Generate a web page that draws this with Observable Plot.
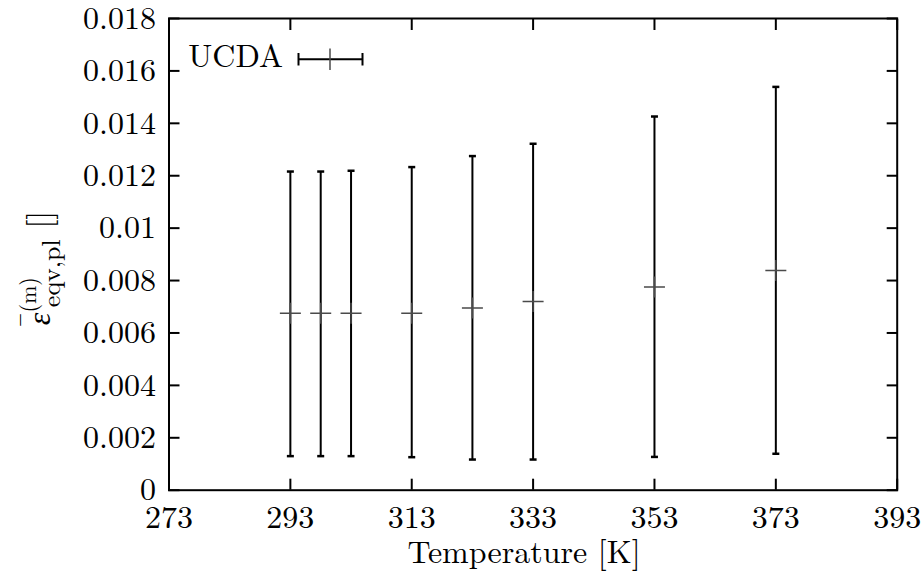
<!DOCTYPE html>
<html>
<head>
<meta charset="utf-8">
<script src="https://cdn.jsdelivr.net/npm/d3@7"></script>
<script src="https://cdn.jsdelivr.net/npm/@observablehq/plot@0.6"></script>
<style>
  html, body { margin: 0; padding: 0; background: white; }
  #chart { width: 924px; height: 575px; }
</style>
</head>
<body>
<div id="chart"></div>
<script>
// Data
const temps = [293, 298, 303, 313, 323, 333, 353, 373];
const means = [0.00675, 0.00675, 0.00675, 0.00675, 0.00695, 0.0072, 0.00775, 0.00838];
const lows  = [0.0013, 0.0013, 0.0013, 0.00126, 0.00117, 0.00117, 0.00127, 0.00139];
const highs = [0.01216, 0.01216, 0.01219, 0.01233, 0.01275, 0.01322, 0.01426, 0.01539];
const xTicks = [273, 293, 313, 333, 353, 373, 393];
const yTicks = [0, 0.002, 0.004, 0.006, 0.008, 0.01, 0.012, 0.014, 0.016, 0.018];
const seriesName = "UCDA";

const data = temps.map((T, i) => ({T, mean: means[i], lo: lows[i], hi: highs[i]}));

const capSym = {draw(ctx, size) { const r = Math.sqrt(size / Math.PI); ctx.moveTo(-r, 0); ctx.lineTo(r, 0); }};
const plusSym = {draw(ctx, size) { const r = Math.sqrt(size / Math.PI); ctx.moveTo(-r, 0); ctx.lineTo(r, 0); ctx.moveTo(0, -r); ctx.lineTo(0, r); }};

const fmt = d => String(+d.toFixed(4));
const font = "'Latin Modern Roman', 'Liberation Serif', serif";
const FS = 32;
const W = 924, H = 575, mL = 168.5, mR = 27.3, mT = 18, mB = 85.3;

const chart = Plot.plot({
  width: W, height: H,
  marginLeft: mL, marginRight: mR, marginTop: mT, marginBottom: mB,
  style: {fontFamily: font, fontSize: FS + "px", background: "white", color: "black", overflow: "visible"},
  x: {domain: [273, 393], label: null},
  y: {domain: [0, 0.018], label: null},
  marks: [
    Plot.axisX({anchor: "bottom", ticks: xTicks, tickSize: 0, tickPadding: 15, tickFormat: d => String(d), fontSize: FS, label: null}),
    Plot.axisX({anchor: "bottom", ticks: xTicks, tickSize: -11, strokeWidth: 2, tickFormat: () => "", label: null}),
    Plot.axisX({anchor: "top", ticks: xTicks, tickSize: -11, strokeWidth: 2, tickFormat: () => "", label: null}),
    Plot.axisY({anchor: "left", ticks: yTicks, tickSize: 0, tickPadding: 13, tickFormat: fmt, fontSize: FS, label: null}),
    Plot.axisY({anchor: "left", ticks: yTicks, tickSize: -11, strokeWidth: 2, tickFormat: () => "", label: null}),
    Plot.axisY({anchor: "right", ticks: yTicks, tickSize: -11, strokeWidth: 2, tickFormat: () => "", label: null}),
    Plot.ruleX(data, {x: "T", y1: "lo", y2: "hi", stroke: "black", strokeWidth: 2}),
    Plot.dot(data, {x: "T", y: "hi", symbol: capSym, r: 3.5, stroke: "black", strokeWidth: 2.5, fill: "none"}),
    Plot.dot(data, {x: "T", y: "lo", symbol: capSym, r: 3.5, stroke: "black", strokeWidth: 2.5, fill: "none"}),
    Plot.dot(data, {x: "T", y: "mean", symbol: plusSym, r: 10.5, stroke: "#4a4a4a", strokeWidth: 1.5, fill: "none"}),
    Plot.frame({stroke: "black", strokeWidth: 2})
  ]
});

document.getElementById("chart").appendChild(chart);

const svg = d3.select(chart);

// X axis label
svg.append("text")
  .attr("x", 524).attr("y", 563)
  .attr("text-anchor", "middle")
  .attr("font-size", FS)
  .attr("fill", "black")
  .text("Temperature [K]");

// Y axis label (rotated)
const yl = svg.append("text")
  .attr("transform", "translate(50,268) rotate(-90)")
  .attr("text-anchor", "middle")
  .attr("font-size", FS)
  .attr("fill", "black");
yl.append("tspan").attr("font-style", "italic").text("\u03B5");
yl.append("tspan").attr("font-size", 22).attr("dy", -14).text("(m)");
yl.append("tspan").attr("font-size", 26).attr("dx", -30).attr("dy", 24).text("eqv,pl");
yl.append("tspan").attr("dy", -10).text(" []");
// macron over epsilon
yl.append("tspan").attr("x", -52).attr("y", -10).attr("text-anchor", "middle").text("\u00AF");

// Legend
const lg = svg.append("g");
lg.append("text")
  .attr("x", 283).attr("y", 67)
  .attr("text-anchor", "end")
  .attr("font-size", FS)
  .attr("fill", "black")
  .text(seriesName);
lg.append("line").attr("x1", 298.5).attr("x2", 362.5).attr("y1", 59.3).attr("y2", 59.3).attr("stroke", "black").attr("stroke-width", 2);
lg.append("line").attr("x1", 298.5).attr("x2", 298.5).attr("y1", 53).attr("y2", 65.5).attr("stroke", "black").attr("stroke-width", 2);
lg.append("line").attr("x1", 362.5).attr("x2", 362.5).attr("y1", 53).attr("y2", 65.5).attr("stroke", "black").attr("stroke-width", 2);
lg.append("line").attr("x1", 330).attr("x2", 330).attr("y1", 48.5).attr("y2", 70).attr("stroke", "#4a4a4a").attr("stroke-width", 1.5);

// force the serif family on every text element
svg.attr("font-family", font).style("font-family", font);
svg.selectAll("text").attr("font-family", font).style("font-family", font);
</script>
</body>
</html>
